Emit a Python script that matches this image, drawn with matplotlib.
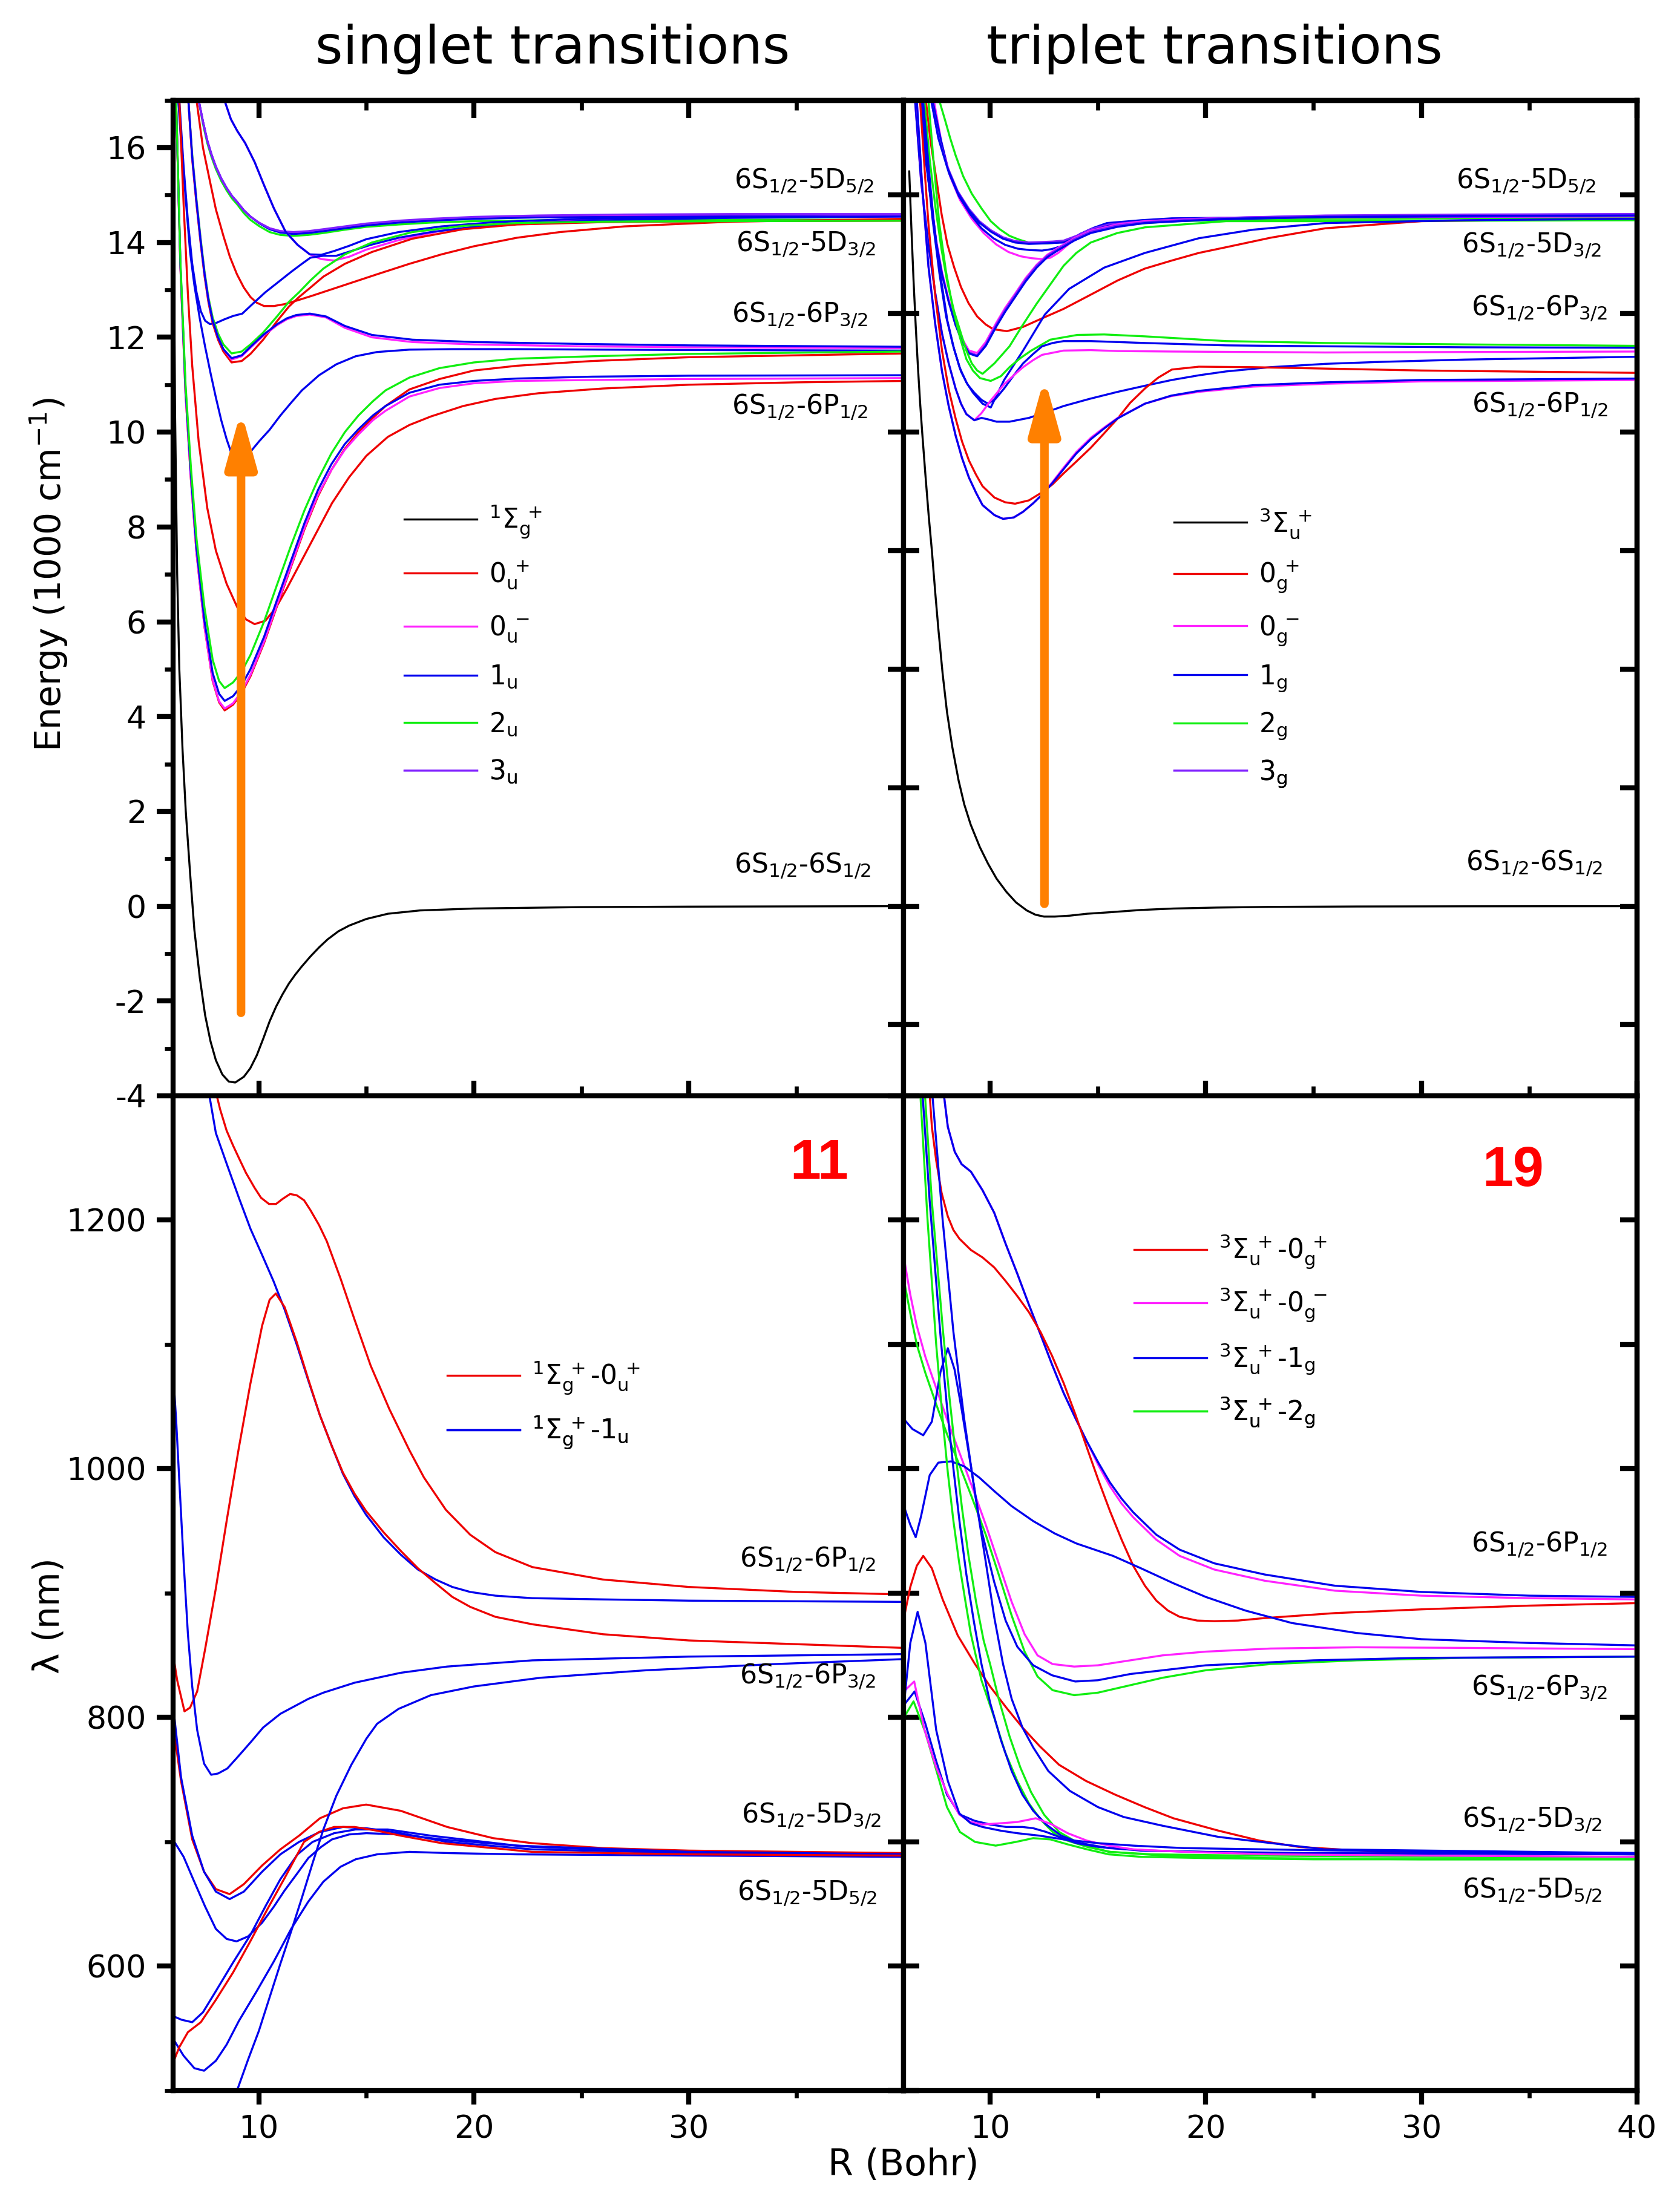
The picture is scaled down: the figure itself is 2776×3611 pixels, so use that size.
import matplotlib
matplotlib.use("Agg")
import matplotlib.pyplot as plt
from matplotlib.lines import Line2D
from matplotlib.ticker import MultipleLocator, FixedLocator

plt.rcParams['font.family'] = 'DejaVu Sans'
plt.rcParams['mathtext.fontset'] = 'dejavusans'
plt.rcParams['mathtext.default'] = 'regular'
plt.rcParams['axes.unicode_minus'] = False

RED = '#ee0000'
BLUE = '#0000ee'
GREEN = '#11ee11'
MAG = '#ff22ff'
PURP = '#8020ff'
BLACK = '#000000'
ORANGE = '#ff8000'
LW = 0.8

# ---------------- singlet potentials (top left), E in 1000 cm-1 ----------------
tl_black_R = [6.0, 6.05, 6.1, 6.2, 6.3, 6.45, 6.6, 6.8, 7.0, 7.25, 7.5, 7.75, 8.0, 8.3, 8.6, 8.9, 9.3, 9.6,
              9.9, 10.2, 10.5, 10.8, 11.1, 11.4, 11.7, 12.0, 12.4, 12.8, 13.2, 13.7, 14.2, 15.0, 16.0, 17.5,
              20.0, 25.0, 30.0, 40.0]
tl_black_E = [17.0, 13.5, 10.5, 7.0, 5.0, 3.3, 2.0, 0.7, -0.5, -1.5, -2.3, -2.85, -3.25, -3.55, -3.7, -3.72,
              -3.6, -3.42, -3.15, -2.8, -2.43, -2.12, -1.86, -1.63, -1.44, -1.27, -1.06, -0.87, -0.7, -0.53,
              -0.41, -0.27, -0.16, -0.09, -0.05, -0.02, -0.01, 0.0]

tl_A_R = [6.15, 6.35, 6.59, 6.84, 7.1, 7.47, 7.85, 8.15, 8.41, 8.8, 9.2, 9.61, 10.24, 10.86, 11.49, 12.12,
          12.75, 13.37, 14.0, 14.63, 15.3, 15.89, 17.0, 18.4, 20.0, 22.0, 25.5, 30.0, 40.0]
tl_A_red_E = [17.0, 13.5, 10.8, 9.0, 7.45, 5.9, 4.75, 4.3, 4.13, 4.25, 4.5, 4.85, 5.55, 6.35, 7.15, 7.95,
              8.65, 9.2, 9.65, 10.0, 10.3, 10.55, 10.9, 11.12, 11.3, 11.4, 11.5, 11.58, 11.66]
tl_A_mag_E = [17.0, 13.5, 10.8, 9.0, 7.45, 5.9, 4.77, 4.32, 4.17, 4.28, 4.53, 4.88, 5.58, 6.38, 7.18, 7.98,
              8.68, 9.2, 9.63, 9.95, 10.25, 10.45, 10.75, 10.93, 11.03, 11.08, 11.1, 11.12, 11.14]
tl_A_blue_E = [17.0, 13.55, 10.9, 9.1, 7.55, 6.02, 4.92, 4.48, 4.33, 4.43, 4.66, 5.0, 5.68, 6.48, 7.28, 8.08,
               8.78, 9.32, 9.75, 10.06, 10.35, 10.55, 10.83, 11.0, 11.08, 11.13, 11.17, 11.19, 11.2]
tl_A_green_E = [17.0, 13.6, 11.0, 9.25, 7.75, 6.3, 5.2, 4.75, 4.6, 4.72, 4.95, 5.3, 6.0, 6.8, 7.6, 8.35,
                9.0, 9.55, 10.0, 10.35, 10.65, 10.88, 11.15, 11.35, 11.47, 11.55, 11.6, 11.65, 11.7]

tl_A2_red_R = [6.3, 6.5, 6.7, 6.9, 7.2, 7.6, 8.0, 8.5, 9.0, 9.4, 9.8, 10.3, 10.8, 11.3, 12.0, 12.7, 13.4,
               14.2, 15.0, 16.0, 17.0, 18.0, 19.5, 21.0, 23.0, 26.0, 30.0, 35.0, 40.0]
tl_A2_red_E = [17.0, 14.8, 12.9, 11.4, 9.8, 8.4, 7.5, 6.8, 6.3, 6.05, 5.95, 6.02, 6.3, 6.7, 7.3, 7.9, 8.5,
               9.05, 9.5, 9.9, 10.15, 10.33, 10.55, 10.7, 10.82, 10.92, 11.0, 11.05, 11.08]

tl_Bpi_R = [6.25, 6.4, 6.6, 6.8, 7.0, 7.25, 7.5, 7.75, 8.0, 8.25, 8.5, 8.75, 9.0, 9.3, 9.6, 10.0, 10.5, 11.0,
            11.5, 12.0, 12.8, 13.6, 14.5, 15.5, 17.0, 19.0, 22.0, 26.0, 32.0, 40.0]
tl_Bpi_E = [17.0, 16.0, 14.9, 13.8, 13.1, 12.4, 11.8, 11.25, 10.73, 10.25, 9.85, 9.52, 9.35, 9.4, 9.58, 9.8,
            10.05, 10.35, 10.62, 10.88, 11.2, 11.43, 11.6, 11.69, 11.74, 11.75, 11.75, 11.74, 11.73, 11.72]

tl_B_hump_R = [6.72, 6.9, 7.1, 7.3, 7.47, 7.65, 7.85, 8.1, 8.35, 8.73, 9.2, 9.61, 10.2, 10.86, 11.3, 11.74,
               12.37, 13.12, 14.0, 15.26, 17.14, 20.0, 25.0, 30.0, 40.0]
tl_B_blue_E = [17.0, 15.8, 14.85, 14.0, 13.35, 12.8, 12.35, 12.0, 11.75, 11.56, 11.62, 11.8, 12.05, 12.28,
               12.4, 12.47, 12.5, 12.44, 12.24, 12.05, 11.95, 11.9, 11.86, 11.83, 11.8]
tl_B_mag_E = [17.0, 15.8, 14.85, 14.0, 13.35, 12.8, 12.35, 12.0, 11.75, 11.53, 11.6, 11.78, 12.03, 12.26,
              12.38, 12.45, 12.48, 12.42, 12.2, 12.0, 11.9, 11.85, 11.81, 11.79, 11.77]
tl_B_up_R = [6.72, 6.9, 7.1, 7.3, 7.47, 7.65, 7.85, 8.1, 8.35, 8.73, 9.2, 9.61, 10.2, 10.86, 11.4, 11.87,
             12.4, 13.0, 14.0, 15.26, 17.14, 19.5, 22.0, 26.0, 32.0, 40.0]
tl_B_green_E = [17.0, 15.85, 14.9, 14.05, 13.4, 12.85, 12.42, 12.08, 11.85, 11.66, 11.7, 11.85, 12.1, 12.45,
                12.75, 12.95, 13.2, 13.45, 13.75, 14.0, 14.22, 14.35, 14.41, 14.44, 14.45, 14.46]
tl_B_red_E = [17.0, 15.75, 14.8, 13.95, 13.3, 12.75, 12.3, 11.95, 11.7, 11.47, 11.5, 11.65, 11.95, 12.35,
              12.65, 12.85, 13.05, 13.28, 13.55, 13.8, 14.08, 14.28, 14.38, 14.43, 14.45, 14.46]

tl_C_red_R = [7.1, 7.4, 7.72, 8.0, 8.35, 8.65, 8.98, 9.3, 9.61, 9.9, 10.24, 10.7, 11.2, 11.8, 12.5, 13.3,
              14.3, 15.5, 17.0, 18.5, 20.0, 22.0, 24.0, 27.0, 32.0, 40.0]
tl_C_red_E = [17.0, 16.0, 15.3, 14.7, 14.14, 13.7, 13.33, 13.05, 12.85, 12.73, 12.66, 12.66, 12.7, 12.78,
              12.88, 13.0, 13.15, 13.33, 13.55, 13.75, 13.92, 14.1, 14.22, 14.34, 14.44, 14.5]

tl_C_blue_R = [6.3, 6.5, 6.7, 6.9, 7.1, 7.3, 7.5, 7.72, 8.0, 8.4, 8.8, 9.23, 9.7, 10.3, 10.86, 11.5, 12.0,
               12.4, 13.0, 13.6, 14.3, 15.2, 16.5, 18.0, 20.0, 23.0, 27.0, 32.0, 40.0]
tl_C_blue_E = [17.0, 15.6, 14.45, 13.55, 12.95, 12.55, 12.35, 12.28, 12.3, 12.38, 12.45, 12.5, 12.7, 12.95,
               13.15, 13.38, 13.55, 13.68, 13.72, 13.72, 13.82, 13.95, 14.1, 14.22, 14.33, 14.42, 14.48,
               14.52, 14.55]

tl_D_R = [8.4, 8.7, 9.0, 9.36, 9.8, 10.24, 10.7, 11.24, 11.8, 12.37, 12.9, 13.5, 14.2, 15.0, 16.5, 18.5,
          21.0, 25.0, 30.0, 40.0]
tl_D_blue_E = [17.0, 16.6, 16.35, 16.1, 15.7, 15.21, 14.72, 14.23, 13.95, 13.75, 13.74, 13.82, 13.93, 14.07,
               14.22, 14.34, 14.43, 14.5, 14.53, 14.55]
tl_D_mag_E = [17.0, 16.6, 16.35, 16.1, 15.7, 15.21, 14.72, 14.23, 13.95, 13.75, 13.65, 13.62, 13.7, 13.85,
              14.05, 14.25, 14.38, 14.47, 14.52, 14.55]

tl_E_R = [7.2, 7.4, 7.6, 7.8, 8.0, 8.25, 8.5, 8.75, 9.0, 9.3, 9.6, 10.0, 10.5, 11.0, 11.6, 12.3, 13.0, 14.0,
          15.0, 16.5, 18.0, 20.0, 23.0, 27.0, 32.0, 40.0]
tl_E_purp_E = [17.0, 16.55, 16.15, 15.85, 15.6, 15.35, 15.15, 14.98, 14.85, 14.68, 14.55, 14.42, 14.3, 14.24,
               14.22, 14.24, 14.28, 14.34, 14.4, 14.46, 14.5, 14.54, 14.57, 14.59, 14.6, 14.6]
tl_E_green_E = [17.0, 16.5, 16.1, 15.8, 15.55, 15.3, 15.1, 14.93, 14.8, 14.62, 14.48, 14.35, 14.22, 14.16,
                14.14, 14.16, 14.2, 14.27, 14.33, 14.38, 14.42, 14.45, 14.47, 14.48, 14.48, 14.48]
tl_E_mag_E = [17.0, 16.55, 16.15, 15.85, 15.6, 15.35, 15.15, 14.98, 14.85, 14.68, 14.55, 14.42, 14.3, 14.24,
              14.21, 14.23, 14.27, 14.33, 14.39, 14.45, 14.49, 14.52, 14.55, 14.56, 14.57, 14.57]
tl_E_blue_E = [17.0, 16.55, 16.15, 15.85, 15.6, 15.35, 15.15, 14.98, 14.85, 14.68, 14.55, 14.41, 14.28, 14.21,
               14.18, 14.2, 14.24, 14.3, 14.36, 14.42, 14.46, 14.5, 14.53, 14.54, 14.55, 14.55]

# ---------------- triplet potentials (top right) ----------------
tr_black_R = [6.25, 6.35, 6.45, 6.55, 6.65, 6.75, 6.85, 7.0, 7.15, 7.3, 7.45, 7.6, 7.8, 8.0, 8.25, 8.54, 8.8,
              9.1, 9.52, 9.9, 10.3, 10.76, 11.2, 11.7, 12.1, 12.5, 13.0, 13.7, 14.5, 15.5, 17.0, 18.5, 20.5,
              23.0, 27.0, 32.0, 40.0]
tr_black_E = [15.5, 14.3, 13.2, 12.25, 11.4, 10.65, 10.0, 9.1, 8.25, 7.5, 6.65, 5.85, 4.9, 4.1, 3.35, 2.65,
              2.15, 1.72, 1.25, 0.9, 0.58, 0.3, 0.08, -0.09, -0.18, -0.22, -0.22, -0.2, -0.16, -0.13, -0.08,
              -0.05, -0.03, -0.015, -0.007, -0.003, 0.0]

tr_T1_R = [6.6, 6.85, 7.14, 7.45, 7.77, 8.08, 8.4, 8.7, 9.02, 9.35, 9.65, 10.2, 10.6, 11.1, 11.53, 12.0, 12.41,
           12.9, 13.41, 14.0, 14.67, 15.3, 15.92, 17.18, 18.4, 19.68, 22.19, 25.55, 30.0, 40.0]
tr_T1_blue_E = [17.0, 15.2, 13.5, 12.3, 11.28, 10.55, 9.93, 9.45, 9.04, 8.72, 8.46, 8.25, 8.17, 8.2, 8.32,
                8.5, 8.68, 8.93, 9.22, 9.55, 9.85, 10.08, 10.29, 10.6, 10.77, 10.87, 10.99, 11.05, 11.1, 11.13]
tr_T1_mag_E = [17.0, 15.2, 13.5, 12.3, 11.28, 10.55, 9.93, 9.45, 9.04, 8.72, 8.46, 8.25, 8.17, 8.2, 8.32,
               8.5, 8.68, 8.95, 9.25, 9.58, 9.88, 10.1, 10.3, 10.6, 10.76, 10.85, 10.96, 11.02, 11.07, 11.1]

tr_T2_R = [6.75, 7.0, 7.14, 7.45, 7.77, 8.08, 8.4, 8.7, 9.02, 9.35, 9.65, 10.2, 10.7, 11.16, 11.8, 12.41,
           12.9, 13.41, 14.0, 14.67, 15.3, 15.92, 16.5, 17.18, 17.8, 18.43, 19.68, 22.19, 25.55, 30.0, 40.0]
tr_T2_red_E = [17.0, 15.3, 14.4, 12.9, 11.72, 10.9, 10.29, 9.8, 9.4, 9.1, 8.86, 8.62, 8.52, 8.49, 8.56, 8.73,
               8.9, 9.13, 9.38, 9.67, 9.98, 10.29, 10.62, 10.92, 11.15, 11.32, 11.38, 11.37, 11.34, 11.3, 11.25]

tr_T3_R = [6.52, 6.8, 7.14, 7.45, 7.77, 8.08, 8.4, 8.65, 8.9, 9.27, 9.6, 9.9, 10.3, 10.9, 11.8, 12.6, 13.41,
           14.6, 15.92, 17.2, 18.43, 19.7, 20.94, 23.0, 25.55, 28.0, 32.0, 40.0]
tr_T3_blue_E = [17.0, 15.3, 13.96, 12.95, 12.08, 11.45, 10.92, 10.6, 10.38, 10.25, 10.3, 10.27, 10.22, 10.22,
                10.3, 10.42, 10.55, 10.7, 10.85, 10.98, 11.1, 11.2, 11.28, 11.37, 11.44, 11.48, 11.53, 11.59]

tr_T4_R = [6.52, 6.8, 7.14, 7.45, 7.77, 8.08, 8.4, 8.65, 8.9, 9.27, 9.6, 10.0, 10.65, 11.1, 11.53, 12.0,
           12.41, 13.41, 14.67, 15.92, 18.43, 25.55, 32.0, 40.0]
tr_T4_mag_E = [17.0, 15.3, 13.96, 12.95, 12.08, 11.45, 10.92, 10.6, 10.38, 10.25, 10.4, 10.65, 11.01, 11.2,
               11.37, 11.52, 11.63, 11.72, 11.73, 11.71, 11.7, 11.68, 11.69, 11.7]

tr_T5_R = [6.89, 7.15, 7.39, 7.7, 8.02, 8.33, 8.65, 8.96, 9.27, 9.6, 9.9, 10.25, 10.65, 11.1, 11.53, 12.0,
           12.41, 12.9, 13.41, 14.67, 17.18, 20.94, 25.55, 32.0, 40.0]
tr_T5_blue_E = [17.0, 15.6, 14.41, 13.3, 12.35, 11.75, 11.28, 11.0, 10.83, 10.68, 10.6, 10.7, 10.92, 11.2,
                11.45, 11.65, 11.81, 11.88, 11.92, 11.92, 11.88, 11.83, 11.81, 11.79, 11.78]

tr_T6_R = [7.14, 7.4, 7.64, 7.95, 8.27, 8.6, 8.9, 9.2, 9.53, 10.03, 10.5, 10.9, 11.4, 11.91, 12.79, 14.04,
           15.29, 17.18, 20.94, 25.55, 32.0, 40.0]
tr_T6_green_E = [17.0, 15.6, 14.41, 13.4, 12.62, 12.0, 11.54, 11.3, 11.14, 11.08, 11.18, 11.37, 11.56, 11.72,
                 11.95, 12.05, 12.06, 12.02, 11.92, 11.88, 11.85, 11.82]

tr_T7_R = [7.02, 7.25, 7.52, 7.75, 8.02, 8.33, 8.65, 9.0, 9.4, 9.8, 10.15, 10.78, 11.53, 12.41, 13.41, 14.67,
           15.92, 17.18, 18.43, 19.68, 20.94, 23.0, 25.55, 30.0, 40.0]
tr_T7_red_E = [17.0, 16.1, 15.3, 14.6, 13.96, 13.48, 13.06, 12.72, 12.44, 12.27, 12.17, 12.13, 12.22, 12.4,
               12.6, 12.9, 13.2, 13.45, 13.62, 13.78, 13.9, 14.1, 14.3, 14.45, 14.5]

tr_T8_R = [6.77, 7.0, 7.27, 7.5, 7.77, 8.08, 8.4, 8.7, 9.02, 9.4, 9.8, 10.28, 10.7, 11.16, 11.65, 12.16,
           12.65, 13.16, 13.9, 14.67, 15.9, 17.18, 20.94, 25.55, 32.0, 40.0]
tr_T8_purp_E = [17.0, 15.8, 14.85, 14.0, 13.33, 12.75, 12.26, 11.92, 11.68, 11.62, 11.85, 12.26, 12.58, 12.89,
                13.22, 13.51, 13.72, 13.87, 14.07, 14.23, 14.36, 14.43, 14.52, 14.56, 14.58, 14.6]
tr_T8_blue_E = [17.0, 15.8, 14.85, 14.0, 13.33, 12.75, 12.26, 11.92, 11.66, 11.6, 11.82, 12.22, 12.54, 12.85,
                13.18, 13.47, 13.69, 13.84, 14.04, 14.2, 14.33, 14.41, 14.5, 14.54, 14.56, 14.57]
tr_T8_mag_E = [17.0, 15.85, 14.9, 14.05, 13.38, 12.8, 12.31, 11.97, 11.72, 11.67, 11.9, 12.3, 12.62, 12.92,
               13.25, 13.53, 13.74, 13.89, 14.09, 14.25, 14.38, 14.45, 14.52, 14.55, 14.56, 14.56]

tr_T8g_R = [6.95, 7.2, 7.46, 7.75, 8.02, 8.33, 8.65, 8.9, 9.15, 9.4, 9.65, 10.2, 10.9, 11.5, 12.16, 12.8,
            13.41, 14.0, 14.67, 15.9, 17.18, 20.94, 25.55, 32.0, 40.0]
tr_T8g_green_E = [17.0, 15.75, 14.76, 13.85, 13.15, 12.55, 12.08, 11.72, 11.45, 11.3, 11.23, 11.45, 11.81,
                  12.25, 12.71, 13.12, 13.51, 13.78, 14.0, 14.2, 14.32, 14.45, 14.45, 14.46, 14.47]

tr_T9_R = [6.83, 7.08, 7.33, 7.65, 7.96, 8.27, 8.58, 8.9, 9.21, 9.65, 10.03, 10.65, 11.53, 12.54, 13.66,
           15.29, 17.18, 19.68, 22.19, 25.55, 32.0, 40.0]
tr_T9_blue_E = [17.0, 15.6, 14.5, 13.35, 12.44, 11.85, 11.37, 11.05, 10.83, 10.6, 10.52, 11.1, 11.72, 12.48,
                13.02, 13.47, 13.78, 14.09, 14.27, 14.41, 14.47, 14.5]

tr_Eg_R = [7.64, 7.9, 8.15, 8.4, 8.75, 9.15, 9.6, 10.03, 10.45, 10.9, 11.35, 11.78, 12.2, 12.66, 13.15, 13.66,
           14.67, 15.92, 18.43, 25.55, 32.0, 40.0]
tr_Eg_green_E = [17.0, 16.6, 16.2, 15.84, 15.4, 15.03, 14.72, 14.45, 14.28, 14.14, 14.06, 14.0, 13.98, 13.98,
                 14.0, 14.05, 14.23, 14.36, 14.45, 14.5, 14.51, 14.52]
tr_Eb_R = [7.27, 7.6, 8.02, 8.5, 9.02, 9.5, 10.03, 10.6, 11.16, 11.8, 12.41, 12.9, 13.41, 14.0, 14.67, 15.5,
           17.18, 20.0, 25.55, 32.0, 40.0]
tr_Eb_blue_E = [17.0, 16.2, 15.57, 15.05, 14.68, 14.42, 14.23, 14.08, 14.0, 13.97, 13.98, 13.99, 14.0, 14.1,
                14.25, 14.35, 14.42, 14.48, 14.54, 14.56, 14.58]
tr_Eb_purp_E = [17.0, 16.22, 15.6, 15.08, 14.71, 14.45, 14.26, 14.11, 14.03, 14.0, 14.01, 14.02, 14.04, 14.14,
                14.28, 14.38, 14.45, 14.51, 14.57, 14.59, 14.6]
tr_Em_R = [7.39, 7.75, 8.15, 8.6, 9.15, 9.7, 10.28, 10.85, 11.41, 11.9, 12.41, 12.8, 13.16, 13.6, 14.04, 14.6,
           15.29, 16.5, 18.43, 25.0, 40.0]
tr_Em_mag_E = [17.0, 16.1, 15.39, 14.9, 14.5, 14.2, 13.96, 13.8, 13.71, 13.67, 13.65, 13.68, 13.78, 13.95,
               14.14, 14.27, 14.36, 14.44, 14.5, 14.53, 14.55]
tr_Eb2_R = [7.33, 7.7, 8.08, 8.55, 9.09, 9.6, 10.15, 10.7, 11.28, 11.85, 12.41, 12.85, 13.29, 13.7, 14.17,
            14.8, 15.42, 17.0, 18.43, 25.0, 40.0]
tr_Eb2_blue_E = [17.0, 16.2, 15.48, 14.98, 14.59, 14.3, 14.09, 13.95, 13.87, 13.84, 13.83, 13.86, 13.92,
                 14.03, 14.18, 14.31, 14.41, 14.47, 14.51, 14.54, 14.56]

# ---------------- singlet wavelengths (bottom left), nm ----------------
bl_red1_R = [7.9, 8.2, 8.5, 8.8, 9.07, 9.4, 9.8, 10.1, 10.47, 10.8, 11.1, 11.45, 11.76, 12.1, 12.4, 12.8,
             13.16, 13.8, 14.45, 15.2, 16.07, 17.0, 17.68, 18.7, 19.83, 21.0, 22.72, 26.0, 30.0, 35.0, 40.0]
bl_red1_L = [1310, 1289, 1272, 1260, 1250, 1238, 1226, 1218, 1213, 1213, 1217, 1221, 1220, 1216, 1208, 1196,
             1183, 1153, 1120, 1083, 1048, 1015, 993, 967, 947, 933, 921, 911, 905, 901, 899]
bl_blue1_R = [7.6, 8.0, 8.53, 9.07, 9.61, 10.15, 10.68, 11.2, 11.76, 12.3, 12.84, 13.4, 13.91, 14.45, 14.99,
              15.8, 16.6, 17.4, 18.22, 19.0, 19.83, 21.0, 22.72, 26.0, 30.0, 40.0]
bl_blue1_L = [1310, 1270, 1244, 1218, 1193, 1172, 1151, 1128, 1100, 1071, 1043, 1018, 996, 978, 963, 945,
              931, 919, 911, 905, 901, 898, 896, 895, 894, 893]
bl_red2_R = [6.0, 6.2, 6.54, 6.8, 7.13, 7.5, 7.99, 8.5, 9.07, 9.6, 10.15, 10.5, 10.79, 11.2, 11.76, 12.3,
             12.84, 13.4, 13.91, 14.45, 14.99, 15.8, 16.6, 17.4, 18.22, 19.0, 19.83, 21.0, 22.72, 26.0, 30.0, 40.0]
bl_red2_L = [852, 830, 805, 808, 821, 855, 903, 958, 1017, 1068, 1115, 1136, 1141, 1130, 1102, 1072, 1043,
             1018, 997, 980, 966, 949, 934, 920, 908, 897, 889, 881, 875, 867, 862, 856]
bl_blue2_R = [6.0, 6.15, 6.3, 6.5, 6.7, 6.9, 7.13, 7.45, 7.78, 8.1, 8.53, 9.0, 9.61, 10.2, 11.0, 12.3, 13.0,
              14.45, 16.6, 18.76, 22.72, 30.0, 40.0]
bl_blue2_L = [1080, 1040, 990, 925, 867, 825, 790, 763, 754, 755, 759, 768, 780, 792, 803, 815, 820, 828,
              836, 841, 846, 849, 851]
bl_red3_R = [6.0, 6.38, 6.9, 7.45, 8.0, 8.64, 9.3, 10.15, 11.0, 11.87, 12.84, 13.91, 14.99, 16.6, 18.76,
             20.9, 22.7, 26.0, 30.0, 40.0]
bl_red3_L = [795, 749, 702, 676, 662, 658, 666, 681, 694, 705, 719, 727, 730, 725, 712, 703, 699, 695, 693,
             691]
bl_blue3_R = [6.0, 6.38, 6.9, 7.45, 8.0, 8.64, 9.3, 10.15, 11.0, 11.87, 12.84, 13.91, 14.99, 16.6, 18.76,
              22.7, 30.0, 40.0]
bl_blue3_L = [811, 752, 705, 676, 660, 654, 660, 676, 690, 700, 708, 712, 711, 707, 700, 694, 691, 690]
bl_blue4_R = [6.0, 6.5, 6.92, 7.5, 8.0, 8.5, 8.96, 9.5, 10.15, 10.7, 11.2, 11.8, 12.3, 12.9, 13.4, 14.2,
              15.0, 16.6, 18.5, 22.7, 30.0, 40.0]
bl_blue4_L = [702, 688, 671, 648, 630, 622, 620, 624, 635, 648, 661, 675, 687, 696, 702, 706, 707, 706, 702,
              696, 691, 689]
bl_blue5_R = [6.0, 6.4, 6.9, 7.4, 8.0, 8.8, 9.6, 10.3, 11.0, 11.8, 12.5, 13.5, 14.5, 16.0, 18.0, 22.0, 30.0,
              40.0]
bl_blue5_L = [560, 557, 555, 563, 580, 603, 625, 648, 670, 690, 700, 707, 710, 710, 705, 697, 692, 690]
bl_blue6_R = [6.0, 6.5, 7.0, 7.45, 8.0, 8.5, 9.07, 9.9, 10.7, 11.5, 12.3, 13.0, 13.8, 14.5, 15.5, 17.0,
              18.8, 22.0, 30.0, 40.0]
bl_blue6_L = [542, 528, 518, 516, 524, 537, 556, 580, 604, 630, 652, 668, 680, 686, 690, 692, 691, 690, 689,
              688]
bl_red4_R = [6.0, 6.3, 6.7, 7.3, 8.0, 8.8, 9.6, 10.4, 11.2, 12.1, 12.8, 13.5, 14.45, 15.5, 16.6, 18.5, 22.7,
             30.0, 40.0]
bl_red4_L = [522, 535, 547, 555, 573, 595, 620, 646, 671, 700, 708, 712, 712, 709, 705, 699, 692, 690, 689]
bl_blue7_R = [8.9, 9.5, 10.0, 10.5, 11.0, 11.5, 12.0, 12.5, 13.0, 13.6, 14.3, 15.0, 15.5, 16.5, 18.0, 20.0,
              23.1, 28.0, 34.0, 40.0]
bl_blue7_L = [496, 525, 548, 575, 602, 628, 655, 683, 710, 737, 762, 783, 795, 807, 818, 825, 832, 838, 843,
              847]

# ---------------- triplet wavelengths (bottom right) ----------------
br_B1_R = [7.82, 8.04, 8.36, 8.68, 9.11, 9.65, 10.19, 10.72, 11.26, 11.8, 12.34, 12.87, 13.41, 13.95, 14.49,
           15.02, 15.56, 16.1, 16.64, 17.71, 18.79, 20.4, 22.74, 26.0, 30.0, 35.0, 40.0]
br_B1_blue_L = [1306, 1275, 1255, 1245, 1239, 1224, 1206, 1181, 1157, 1132, 1108, 1084, 1061, 1041, 1022,
                1005, 989, 976, 965, 947, 935, 924, 915, 906, 901, 898, 897]
br_B3_mag_L = [1306, 1275, 1255, 1245, 1239, 1224, 1206, 1181, 1157, 1132, 1108, 1084, 1061, 1041, 1022,
               1003, 986, 972, 961, 943, 930, 919, 910, 902, 898, 896, 895]
br_B2_R = [7.18, 7.3, 7.5, 7.75, 8.04, 8.3, 8.58, 9.11, 9.65, 10.19, 10.72, 11.26, 11.8, 12.34, 12.87, 13.41,
           13.95, 14.49, 15.02, 15.56, 16.1, 16.64, 17.18, 17.71, 18.25, 18.79, 19.6, 20.4, 21.5, 22.74, 26.0,
           30.0, 35.0, 40.0]
br_B2_red_L = [1306, 1275, 1248, 1222, 1203, 1192, 1185, 1176, 1170, 1162, 1151, 1139, 1126, 1110, 1091,
               1069, 1044, 1017, 991, 966, 943, 922, 906, 894, 886, 881, 878, 877.5, 878, 880, 884, 887, 890,
               892]
br_B4_R = [6.0, 6.4, 6.9, 7.3, 7.7, 8.04, 8.35, 8.68, 9.11, 9.54, 10.19, 10.72, 11.26, 12.0, 12.87, 13.95,
           15.0, 16.5, 20.0, 25.0, 30.0, 40.0]
br_B4_blue_L = [1040, 1032, 1027, 1038, 1078, 1097, 1080, 1048, 1002, 955, 909, 878, 857, 842, 834, 829, 830,
                835, 842, 846, 848, 849]
br_B5_R = [6.0, 6.3, 6.6, 7.0, 7.5, 8.0, 8.6, 9.2, 9.8, 10.4, 11.0, 11.6, 12.2, 12.9, 13.9, 15.0, 16.5, 18.0,
           20.0, 23.0, 27.0, 32.0, 40.0]
br_B5_mag_L = [1170, 1140, 1115, 1090, 1065, 1040, 1012, 984, 955, 924, 893, 867, 850, 843, 841, 842, 846,
               850, 853, 855.5, 856.5, 856, 855]
br_B6_green_L = [1152, 1125, 1100, 1077, 1052, 1028, 1002, 975, 947, 915, 882, 853, 833, 822, 818, 820, 826,
                 832, 838, 843, 846, 848, 849]
br_B7_R = [6.0, 6.3, 6.55, 6.8, 7.2, 7.6, 8.2, 8.8, 9.5, 10.2, 11.0, 12.0, 13.0, 14.0, 15.7, 17.0, 18.5, 20.0,
           21.85, 24.0, 27.0, 30.0, 35.0, 40.0]
br_B7_blue_L = [970, 955, 945, 962, 995, 1005, 1006, 1002, 993, 982, 970, 958, 948, 940, 930, 920, 908, 897,
                886, 876, 868, 863, 860, 858]
br_B8_R = [6.0, 6.3, 6.6, 6.9, 7.3, 7.8, 8.5, 9.3, 10.0, 10.75, 11.5, 12.3, 13.2, 14.45, 15.8, 17.16, 18.5,
           20.6, 22.5, 24.3, 28.0, 33.0, 40.0]
br_B8_red_L = [880, 905, 922, 930, 920, 895, 866, 843, 825, 808, 792, 777, 762, 749, 738, 728, 719, 709, 701,
               696, 692, 691, 690]
br_B9_R = [6.0, 6.3, 6.64, 7.0, 7.5, 8.04, 8.57, 9.1, 9.65, 10.5, 11.26, 12.3, 13.41, 15.0, 16.64, 19.0,
           22.74, 30.0, 40.0]
br_B9_blue_L = [810, 860, 885, 860, 790, 749, 723, 715, 712, 709, 707, 705, 702, 699, 697, 695, 694, 692, 691]
br_B10_R = [6.0, 6.48, 6.96, 7.5, 8.04, 8.57, 9.1, 9.65, 10.5, 11.26, 12.12, 12.87, 13.6, 14.49, 15.5, 16.64,
            19.0, 23.0, 30.0, 40.0]
br_B10_mag_L = [821, 829, 790, 760, 738, 722, 716, 714, 715, 716, 719, 714, 707, 701, 697, 694, 692, 690, 689,
                688]
br_B11_R = [6.0, 6.5, 7.0, 7.5, 8.0, 8.6, 9.28, 10.0, 10.75, 11.5, 12.0, 12.6, 13.2, 14.0, 15.0, 17.0, 20.0,
            25.0, 40.0]
br_B11_blue_L = [810, 821, 795, 765, 738, 722, 717, 714, 712, 712, 711, 708, 704, 699, 696, 693, 692, 691, 690]
br_B12_R = [6.0, 6.45, 7.0, 7.5, 8.0, 8.6, 9.3, 10.26, 11.2, 12.0, 12.8, 13.6, 14.5, 15.5, 17.0, 20.0, 25.0,
            40.0]
br_B12_green_L = [800, 813, 788, 758, 728, 708, 700, 697, 700, 703, 702, 698, 694, 690, 688, 687, 686, 686]
br_B14_R = [6.75, 7.1, 7.5, 7.8, 8.04, 8.3, 8.57, 8.85, 9.11, 9.6, 10.19, 10.7, 11.26, 11.8, 12.34, 12.9,
            13.41, 14.5, 15.56, 18.0, 22.74, 30.0, 40.0]
br_B14_green_L = [1306, 1200, 1100, 1040, 997, 958, 924, 894, 867, 830, 800, 772, 749, 731, 718, 708, 702,
                  696, 692, 689, 687, 686, 686]
br_B15_R = [6.96, 7.3, 7.82, 8.1, 8.4, 8.7, 9.0, 9.35, 9.7, 10.0, 10.4, 10.9, 11.4, 11.9, 12.5, 13.2, 14.2,
            15.5, 17.5, 22.0, 30.0, 40.0]
br_B15_green_L = [1306, 1215, 1110, 1060, 1012, 968, 930, 893, 862, 843, 815, 785, 760, 740, 722, 708, 698,
                  692, 690, 689, 688, 687]
br_B16_R = [6.85, 7.2, 7.71, 8.0, 8.3, 8.6, 8.9, 9.25, 9.6, 10.0, 10.5, 11.0, 11.5, 12.0, 12.6, 13.3, 14.2,
            15.5, 17.5, 22.0, 40.0]
br_B16_blue_L = [1306, 1215, 1105, 1050, 1000, 955, 915, 877, 843, 812, 782, 757, 738, 725, 714, 705, 699,
                 695, 693, 691, 690]
br_B17_R = [7.3, 7.8, 8.3, 8.8, 9.3, 9.8, 10.2, 10.6, 11.0, 11.5, 12.0, 12.7, 13.7, 15.0, 16.2, 18.0, 20.6,
            25.5, 40.0]
br_B17_blue_L = [1306, 1200, 1110, 1040, 980, 925, 880, 843, 815, 792, 776, 757, 741, 728, 720, 713, 704,
                 694, 691]

# ---------------- arrows, labels ----------------
arrow_tl = (9.17, -2.25, 10.45)
arrow_tr = (12.52, 0.05, 11.15)

tl_labels = ['6S$_{1/2}$-5D$_{5/2}$', '6S$_{1/2}$-5D$_{3/2}$', '6S$_{1/2}$-6P$_{3/2}$',
             '6S$_{1/2}$-6P$_{1/2}$', '6S$_{1/2}$-6S$_{1/2}$']
tl_label_R = [32.1, 32.2, 32.0, 32.0, 32.1]
tl_label_E = [15.14, 13.81, 12.31, 10.38, 0.7]
tr_label_R = [31.6, 31.85, 32.3, 32.35, 32.05]
tr_label_E = [15.14, 13.78, 12.46, 10.41, 0.75]
bl_labels = ['6S$_{1/2}$-6P$_{1/2}$', '6S$_{1/2}$-6P$_{3/2}$', '6S$_{1/2}$-5D$_{3/2}$',
             '6S$_{1/2}$-5D$_{5/2}$']
bl_label_R = [32.35, 32.35, 32.45, 32.25]
bl_label_L = [921, 827, 715, 653]
br_label_R = [32.3, 32.3, 31.9, 31.9]
br_label_L = [933, 818, 712, 655]

sing_leg = [r'$^1\Sigma_g^{\;+}$', r'0$_u^{\;+}$', r'0$_u^{\;-}$', r'1$_u$', r'2$_u$', r'3$_u$']
trip_leg = [r'$^3\Sigma_u^{\;+}$', r'0$_g^{\;+}$', r'0$_g^{\;-}$', r'1$_g$', r'2$_g$', r'3$_g$']
leg_colors = [BLACK, RED, MAG, BLUE, GREEN, PURP]
tl_leg_y = [0.5765, 0.5232, 0.469, 0.4208, 0.3735, 0.3257]
tr_leg_y = [0.5751, 0.521, 0.4675, 0.4195, 0.3714, 0.3236]
bl_leg = [r'$^1\Sigma_g^{\;+}$-0$_u^{\;+}$', r'$^1\Sigma_g^{\;+}$-1$_u$']
bl_leg_colors = [RED, BLUE]
bl_leg_y = [0.7162, 0.6615]
br_leg = [r'$^3\Sigma_u^{\;+}$-0$_g^{\;+}$', r'$^3\Sigma_u^{\;+}$-0$_g^{\;-}$', r'$^3\Sigma_u^{\;+}$-1$_g$',
          r'$^3\Sigma_u^{\;+}$-2$_g$']
br_leg_colors = [RED, MAG, BLUE, GREEN]
br_leg_y = [0.843, 0.7895, 0.7354, 0.6819]


fig = plt.figure(figsize=(2776 / 300, 3611 / 300), dpi=300)
ax_tl = fig.add_axes([0.1029, 0.4985, 0.4351, 0.4556])
ax_tr = fig.add_axes([0.5380, 0.4985, 0.4364, 0.4556])
ax_bl = fig.add_axes([0.1029, 0.0432, 0.4351, 0.4553])
ax_br = fig.add_axes([0.5380, 0.0432, 0.4364, 0.4553])

tl_curves = [
    (tl_black_R, tl_black_E, BLACK),
    (tl_E_R, tl_E_green_E, GREEN), (tl_E_R, tl_E_mag_E, MAG), (tl_E_R, tl_E_blue_E, BLUE),
    (tl_E_R, tl_E_purp_E, PURP),
    (tl_D_R, tl_D_mag_E, MAG), (tl_D_R, tl_D_blue_E, BLUE),
    (tl_C_red_R, tl_C_red_E, RED), (tl_C_blue_R, tl_C_blue_E, BLUE),
    (tl_B_up_R, tl_B_red_E, RED), (tl_B_up_R, tl_B_green_E, GREEN),
    (tl_B_hump_R, tl_B_mag_E, MAG), (tl_B_hump_R, tl_B_blue_E, BLUE),
    (tl_Bpi_R, tl_Bpi_E, BLUE),
    (tl_A2_red_R, tl_A2_red_E, RED),
    (tl_A_R, tl_A_red_E, RED), (tl_A_R, tl_A_mag_E, MAG), (tl_A_R, tl_A_blue_E, BLUE),
    (tl_A_R, tl_A_green_E, GREEN),
]
tr_curves = [
    (tr_black_R, tr_black_E, BLACK),
    (tr_Eg_R, tr_Eg_green_E, GREEN), (tr_Em_R, tr_Em_mag_E, MAG), (tr_Eb2_R, tr_Eb2_blue_E, BLUE),
    (tr_Eb_R, tr_Eb_purp_E, PURP), (tr_Eb_R, tr_Eb_blue_E, BLUE),
    (tr_T7_R, tr_T7_red_E, RED),
    (tr_T8_R, tr_T8_mag_E, MAG), (tr_T8_R, tr_T8_purp_E, PURP), (tr_T8_R, tr_T8_blue_E, BLUE),
    (tr_T8g_R, tr_T8g_green_E, GREEN),
    (tr_T9_R, tr_T9_blue_E, BLUE),
    (tr_T6_R, tr_T6_green_E, GREEN),
    (tr_T5_R, tr_T5_blue_E, BLUE),
    (tr_T4_R, tr_T4_mag_E, MAG), (tr_T3_R, tr_T3_blue_E, BLUE),
    (tr_T2_R, tr_T2_red_E, RED),
    (tr_T1_R, tr_T1_mag_E, MAG), (tr_T1_R, tr_T1_blue_E, BLUE),
]
bl_curves = [
    (bl_red1_R, bl_red1_L, RED), (bl_blue1_R, bl_blue1_L, BLUE), (bl_red2_R, bl_red2_L, RED),
    (bl_blue2_R, bl_blue2_L, BLUE), (bl_red3_R, bl_red3_L, RED), (bl_blue3_R, bl_blue3_L, BLUE),
    (bl_blue4_R, bl_blue4_L, BLUE), (bl_blue5_R, bl_blue5_L, BLUE), (bl_blue6_R, bl_blue6_L, BLUE),
    (bl_red4_R, bl_red4_L, RED), (bl_blue7_R, bl_blue7_L, BLUE),
]
br_curves = [
    (br_B1_R, br_B3_mag_L, MAG), (br_B1_R, br_B1_blue_L, BLUE), (br_B2_R, br_B2_red_L, RED),
    (br_B5_R, br_B5_mag_L, MAG), (br_B5_R, br_B6_green_L, GREEN), (br_B4_R, br_B4_blue_L, BLUE),
    (br_B7_R, br_B7_blue_L, BLUE), (br_B8_R, br_B8_red_L, RED),
    (br_B14_R, br_B14_green_L, GREEN), (br_B15_R, br_B15_green_L, GREEN),
    (br_B16_R, br_B16_blue_L, BLUE), (br_B17_R, br_B17_blue_L, BLUE),
    (br_B12_R, br_B12_green_L, GREEN), (br_B11_R, br_B11_blue_L, BLUE),
    (br_B10_R, br_B10_mag_L, MAG), (br_B9_R, br_B9_blue_L, BLUE),
]

for ax, curves in ((ax_tl, tl_curves), (ax_tr, tr_curves), (ax_bl, bl_curves), (ax_br, br_curves)):
    for xs, ys, c in curves:
        ax.plot(xs, ys, color=c, lw=LW, solid_joinstyle='round')

for ax in (ax_tl, ax_tr, ax_bl, ax_br):
    ax.set_xlim(6, 40)
    for s in ax.spines.values():
        s.set_linewidth(2.0)
for ax in (ax_tl, ax_tr):
    ax.set_ylim(-4, 17)
for ax in (ax_bl, ax_br):
    ax.set_ylim(500, 1300)

TICKW = 2.0
TL = 12.5

# x ticks: top row (inside at top, crossing at the middle line)
for ax, majors in ((ax_tl, [10, 20, 30]), (ax_tr, [10, 20, 30, 40])):
    ax.xaxis.set_major_locator(FixedLocator(majors))
    ax.xaxis.set_minor_locator(FixedLocator([15, 25, 35]))
    ax.tick_params(axis='x', which='major', direction='inout', length=12, width=TICKW,
                   bottom=True, top=False, labelbottom=False)
    ax.tick_params(axis='x', which='minor', direction='inout', length=7.5, width=1.6,
                   bottom=True, top=False)
    sec = ax.secondary_xaxis('top')
    sec.xaxis.set_major_locator(FixedLocator(majors))
    sec.xaxis.set_minor_locator(FixedLocator([15, 25, 35]))
    sec.tick_params(axis='x', which='major', direction='in', length=7, width=TICKW, labeltop=False)
    sec.tick_params(axis='x', which='minor', direction='in', length=3.8, width=1.6)
    sec.spines['top'].set_linewidth(2.0)

# x ticks: bottom row
for ax, majors in ((ax_bl, [10, 20, 30]), (ax_br, [10, 20, 30, 40])):
    ax.xaxis.set_major_locator(FixedLocator(majors))
    ax.xaxis.set_minor_locator(FixedLocator([15, 25, 35]))
    ax.tick_params(axis='x', which='major', direction='out', length=5.5, width=TICKW, top=False,
                   labelsize=TL, pad=4)
    ax.tick_params(axis='x', which='minor', direction='out', length=2.8, width=1.6, top=False)

# y ticks, left panels
ax_tl.yaxis.set_major_locator(MultipleLocator(2))
ax_tl.yaxis.set_minor_locator(MultipleLocator(1))
ax_bl.yaxis.set_major_locator(MultipleLocator(200))
ax_bl.yaxis.set_minor_locator(MultipleLocator(100))
for ax in (ax_tl, ax_bl):
    ax.tick_params(axis='y', which='major', direction='out', length=6.5, width=TICKW, right=False,
                   labelsize=TL, pad=4)
    ax.tick_params(axis='y', which='minor', direction='out', length=3.3, width=1.6, right=False)

# y ticks, right panels (crossing the middle line, inside at the right edge)
for ax, step in ((ax_tr, 2.5), (ax_br, 100)):
    ax.yaxis.set_major_locator(MultipleLocator(step))
    ax.tick_params(axis='y', which='major', direction='inout', length=12.5, width=TICKW, left=True,
                   right=False, labelleft=False)
    sec = ax.secondary_yaxis('right')
    sec.yaxis.set_major_locator(MultipleLocator(step))
    sec.tick_params(axis='y', which='major', direction='in', length=6.8, width=TICKW, labelright=False)
    sec.spines['right'].set_linewidth(2.0)

# orange excitation arrows
for ax, (xa, y0, y1) in ((ax_tl, arrow_tl), (ax_tr, arrow_tr)):
    ax.annotate('', xy=(xa, y1), xytext=(xa, y0),
                arrowprops=dict(arrowstyle='-|>,head_length=1.8,head_width=0.5', color=ORANGE,
                                lw=3.4, shrinkA=0, shrinkB=0, mutation_scale=10, capstyle='round'),
                zorder=5)

# asymptote labels
for ax, labs, rs, ys in ((ax_tl, tl_labels, tl_label_R, tl_label_E),
                         (ax_tr, tl_labels, tr_label_R, tr_label_E),
                         (ax_bl, bl_labels, bl_label_R, bl_label_L),
                         (ax_br, bl_labels, br_label_R, br_label_L)):
    for lab, x, y in zip(labs, rs, ys):
        ax.text(x, y, lab, fontsize=10.6, ha='left', va='baseline')

# big red numbers
ax_bl.text(36.07, 1245, '11', color='#ff0000', fontsize=22, fontweight='bold',
           family='Liberation Sans', ha='center', va='center')
ax_br.text(34.24, 1239, '19', color='#ff0000', fontsize=22, fontweight='bold',
           family='Liberation Sans', ha='center', va='center')


# legends: one entry per legend so each row sits where the original has it
def add_legend(ax, labels, colors, x, ys):
    for lab, c, y in zip(labels, colors, ys):
        leg = ax.legend([Line2D([], [], color=c, lw=LW)], [lab], loc='center left', bbox_to_anchor=(x, y),
                        frameon=False, fontsize=10.5, handlelength=2.75, handletextpad=0.45,
                        borderpad=0, borderaxespad=0)
        ax.add_artist(leg)


add_legend(ax_tl, sing_leg, leg_colors, 0.3165, tl_leg_y)
add_legend(ax_tr, trip_leg, leg_colors, 0.3683, tr_leg_y)
add_legend(ax_bl, bl_leg, bl_leg_colors, 0.3753, bl_leg_y)
add_legend(ax_br, br_leg, br_leg_colors, 0.314, br_leg_y)

# titles and axis labels
fig.text(0.329, 0.9776, 'singlet transitions', fontsize=21, ha='center', va='center')
fig.text(0.7228, 0.9776, 'triplet transitions', fontsize=21, ha='center', va='center')
fig.text(0.029, 0.737, 'Energy (1000 cm$^{-1}$)', fontsize=14, rotation=90, ha='center', va='center')
fig.text(0.029, 0.26, r'$\lambda$ (nm)', fontsize=14, rotation=90, ha='center', va='center')
fig.text(0.5378, 0.009, 'R (Bohr)', fontsize=14.5, ha='center', va='center')

fig.savefig('out.png', dpi=300)
